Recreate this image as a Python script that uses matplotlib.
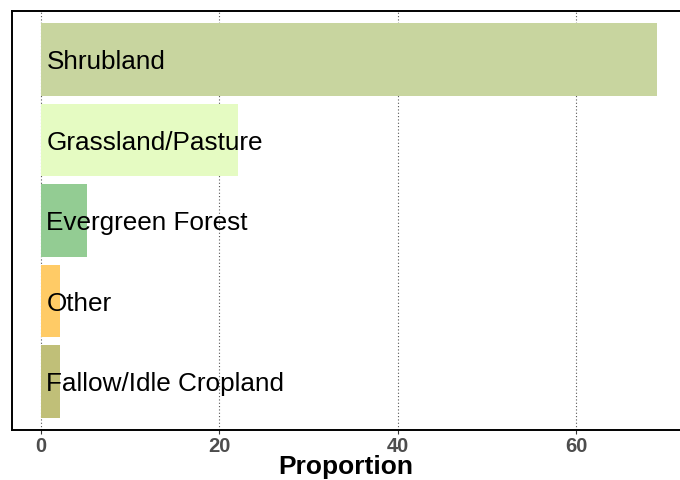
import matplotlib.pyplot as plt

# Land cover classes, top to bottom
categories = ["Shrubland", "Grassland/Pasture", "Evergreen Forest", "Other", "Fallow/Idle Cropland"]
proportion = [69.0, 22.1, 5.1, 2.15, 2.15]
bar_colors = ["#c8d59f", "#e5fbc2", "#93cc93", "#ffcb66", "#c0bf78"]
xticks = [0, 20, 40, 60]

plt.rcParams["font.family"] = ["Liberation Sans", "DejaVu Sans"]

fig, ax = plt.subplots(figsize=(6.8, 4.8), dpi=100)
fig.subplots_adjust(left=0.017, right=1.0, top=0.977, bottom=0.104)

ypos = list(range(len(categories)))[::-1]
ax.barh(ypos, proportion, height=0.9, color=bar_colors, zorder=2)

# Category names written inside the bars
for y, name in zip(ypos, categories):
    ax.text(0.6, y - 0.12, name, va="baseline", ha="left", fontsize=18.8, color="black", zorder=3)

ax.set_xlim(-3.3, 71.6)
ax.set_ylim(-0.6, 4.6)
ax.set_xticks(xticks)
ax.set_yticks([])
ax.tick_params(axis="x", labelsize=14.5, labelcolor="#4d4d4d", length=3, width=0.8, color="#333333", pad=2)
for lbl in ax.get_xticklabels():
    lbl.set_fontweight("bold")

ax.grid(True, axis="x", linestyle=(0, (1, 2)), linewidth=0.8, color="#555555", zorder=1)
ax.set_xlabel("Proportion", fontsize=19, fontweight="bold", labelpad=-1)

for side in ["left", "bottom", "top"]:
    ax.spines[side].set_linewidth(1.4)
ax.spines["right"].set_visible(False)

plt.savefig("out.png", dpi=100)
